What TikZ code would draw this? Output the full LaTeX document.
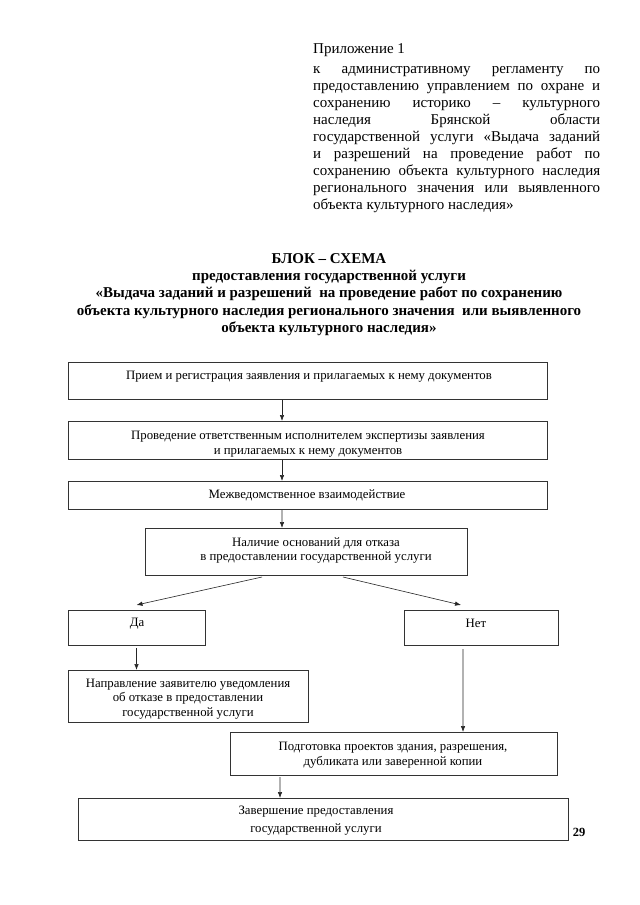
\documentclass[tikz,border=0pt]{standalone}
\usepackage{fontspec}
\setmainfont{Liberation Serif}
\usetikzlibrary{arrows.meta}
\begin{document}
\begin{tikzpicture}[x=1bp,y=-1bp,
  box/.style={draw=black!80, line width=0.8bp, inner sep=0pt, outer sep=0pt},
  btxt/.style={align=center, inner sep=0pt, font=\fontsize{12.8bp}{14.8bp}\selectfont},
  hdr/.style={anchor=base west, inner sep=0pt, font=\fontsize{15bp}{17bp}\selectfont},
  ttl/.style={anchor=base, inner sep=0pt, font=\fontsize{15bp}{17bp}\selectfont\bfseries},
  arr/.style={draw=black!85, line width=0.6bp, -{Latex[length=6bp,width=4.5bp]}}]
\useasboundingbox[fill=white] (0,0) rectangle (640,905);
% header
\node[hdr] (h1) at (313,53) {Приложение 1};
\node[hdr] (h2) at (313,73) {\makebox[287bp][s]{к административному регламенту по}};
\node[hdr] (h3) at (313,90.1) {\makebox[287bp][s]{предоставлению управлением по охране и}};
\node[hdr] (h4) at (313,107.2) {\makebox[287bp][s]{сохранению историко – культурного}};
\node[hdr] (h5) at (313,124.3) {\makebox[287bp][s]{наследия Брянской области}};
\node[hdr] (h6) at (313,141.4) {\makebox[287bp][s]{государственной услуги «Выдача заданий}};
\node[hdr] (h7) at (313,158.5) {\makebox[287bp][s]{и разрешений на проведение работ по}};
\node[hdr] (h8) at (313,175.6) {\makebox[287bp][s]{сохранению объекта культурного наследия}};
\node[hdr] (h9) at (313,192.7) {\makebox[287bp][s]{регионального значения или выявленного}};
\node[hdr] (h10) at (313,209.8) {объекта культурного наследия»};
% title
\node[ttl] (ti1) at (329,263) {БЛОК – СХЕМА};
\node[ttl] (ti2) at (329,280) {предоставления государственной услуги};
\node[ttl] (ti3) at (329,297.5) {«Выдача заданий и разрешений\ \ на проведение работ по сохранению};
\node[ttl] (ti4) at (329,315) {объекта культурного наследия регионального значения\ \ или выявленного};
\node[ttl] (ti5) at (329,332) {объекта культурного наследия»};
% boxes
\node[box, minimum width=479bp, minimum height=37bp] (b1) at (307.5,380.5) {};
\node[box, minimum width=479bp, minimum height=38bp] (b2) at (307.5,440) {};
\node[box, minimum width=479bp, minimum height=28bp] (b3) at (307.5,495) {};
\node[box, minimum width=322bp, minimum height=47bp] (b4) at (306,551.5) {};
\node[box, minimum width=137bp, minimum height=35bp] (da) at (136.5,627.5) {};
\node[box, minimum width=154bp, minimum height=35bp] (net) at (481,627.5) {};
\node[box, minimum width=240bp, minimum height=52bp] (nap) at (188,696) {};
\node[box, minimum width=327bp, minimum height=43bp] (pod) at (393.5,753.5) {};
\node[box, minimum width=490bp, minimum height=42bp] (zav) at (323,819) {};
% texts
\node[btxt] (t1) at (309,377) {Прием и регистрация заявления и прилагаемых к нему документов};
\node[btxt] (t2) at (308,444) {Проведение ответственным исполнителем экспертизы заявления\\и прилагаемых к нему документов};
\node[btxt] (t3) at (307,495.5) {Межведомственное взаимодействие};
\node[btxt] (t4) at (316,550.5) {Наличие оснований для отказа\\в предоставлении государственной услуги};
\node[btxt] (tda) at (137,624) {Да};
\node[btxt] (tnet) at (476,623.5) {Нет};
\node[btxt] (tnap) at (188,699) {Направление заявителю уведомления\\об отказе в предоставлении\\государственной услуги};
\node[btxt] (tpod) at (393,755) {Подготовка проектов здания, разрешения,\\дубликата или заверенной копии};
\node[btxt] (tzav) at (316,820.5) {Завершение предоставления\\[2.5bp]государственной услуги};
\node[inner sep=0pt, font=\fontsize{12.5bp}{14bp}\selectfont\bfseries] (p29) at (579,832) {29};
% arrows
\draw[arr] ([xshift=-25.5bp,yshift=-1bp]b1.south) -- ([xshift=-25.5bp]b2.north);
\draw[arr] ([xshift=-25.5bp,yshift=-1bp]b2.south) -- ([xshift=-25.5bp]b3.north);
\draw[arr] ([xshift=-25.5bp,yshift=-1bp]b3.south) -- ([xshift=-24bp]b4.north);
\draw[arr] ([xshift=-44bp,yshift=-2bp]b4.south) -- ([yshift=5bp]da.north);
\draw[arr] ([xshift=37bp,yshift=-2bp]b4.south) -- ([xshift=-20bp,yshift=5bp]net.north);
\draw[arr] ([yshift=-3bp]da.south) -- (da.south |- nap.north);
\draw[arr] ([xshift=-18bp,yshift=-4bp]net.south) -- ([xshift=69.5bp]pod.north);
\draw[arr] ([xshift=-113.5bp,yshift=-2bp]pod.south) -- ([xshift=-43bp]zav.north);
\end{tikzpicture}
\end{document}
